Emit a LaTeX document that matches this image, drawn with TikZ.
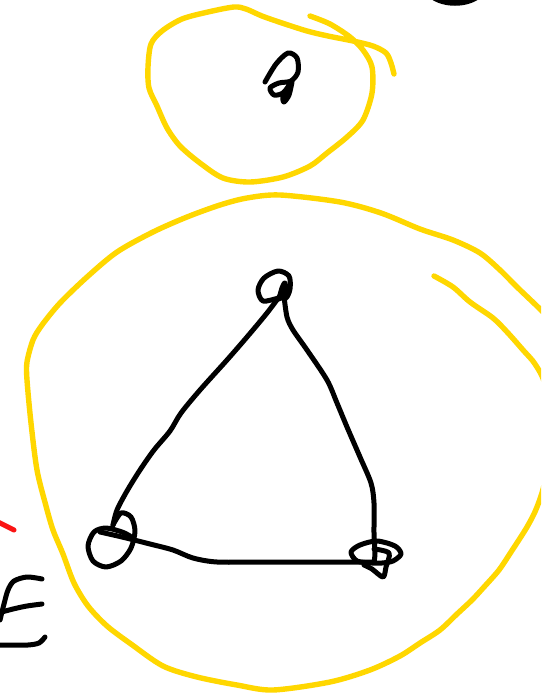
\documentclass[tikz,border=0pt]{standalone}
\definecolor{penyellow}{RGB}{255,215,0}
\definecolor{penred}{RGB}{250,20,20}
\tikzset{
  yel/.style={draw=penyellow,line width=5.4pt,line cap=round,line join=round},
  blk/.style={draw=black,line width=5pt,line cap=round,line join=round},
  rd/.style={draw=penred,line width=5pt,line cap=round}
}
\begin{document}
\begin{tikzpicture}[x=1pt,y=-1pt]
\useasboundingbox (0,0) rectangle (541,699);
\clip (0,0) rectangle (541,699);
\fill[white] (0,0) rectangle (541,699);

% top yellow circle
\draw[yel] plot[smooth] coordinates {(310,16) (330,24) (350,37) (363,50) (372,67) (372,93) (363,120) (347,137) (327,153) (310,166) (283,177) (250,182) (223,178) (200,163) (180,146) (167,128) (157,106) (149,88) (148,67) (151,44) (162,31) (182,19) (208,12) (234,7) (246,9) (262,16) (282,23) (307,31) (328,36) (353,41) (373,46) (386,53) (391,63) (394,74)};

% big yellow circle
\draw[yel] plot[smooth] coordinates {(434,276) (453,287) (470,302) (493,318) (508,333) (523,350) (535,364) (545,385) (549,430) (545,480) (537,507) (527,527) (511,552) (499,570) (484,587) (472,600) (457,614) (440,630) (420,643) (400,656) (370,670) (330,682) (273,690) (237,685) (197,677) (163,666) (131,644) (107,626) (88,606) (74,583) (63,554) (53,530) (46,506) (37,470) (31,423) (27,380) (27,362) (33,340) (42,325) (60,303) (87,277) (117,252) (153,232) (187,217) (220,205) (247,198) (280,195) (340,202) (381,213) (420,229) (453,240) (480,253) (500,270) (517,287) (541,310) (556,326)};

% small black glyph in top circle
\draw[blk] plot[smooth] coordinates {(265,82) (276,64) (288,53) (297,58) (298,72) (291,81) (279,83) (270,88) (274,95) (283,93) (290,84)};
\draw[blk] plot[smooth] coordinates {(292,82) (289,95) (284,102) (283,96) (289,86)};

% triangle vertices
\coordinate (A) at (282,293);
\coordinate (B) at (113,525);
\coordinate (C) at (374,562);

% top vertex loop
\draw[blk] plot[smooth cycle] coordinates {(279,298) (263,301) (258,290) (264,278) (278,271) (289,276) (290,289) (286,298)};
\draw[blk] plot[smooth] coordinates {(279,299) (282,288) (285,283) (286,293)};

% left edge A-B
\draw[blk] plot[smooth] coordinates {(A) (267,313) (247,337) (227,360) (200,390) (181,413) (170,431) (154,450) (140,470) (127,491) (117,510) (B)};
% right edge A-C
\draw[blk] plot[smooth] coordinates {(284,296) (287,317) (293,330) (307,350) (327,380) (337,403) (347,427) (360,457) (371,483) (374,503) (374,533) (375,553) (C)};
% bottom edge B-C
\draw[blk] plot[smooth] coordinates {(100,532) (122,537) (150,544) (173,550) (193,558) (217,562) (260,562) (C)};

% left vertex loops
\draw[blk] plot[smooth] coordinates {(B) (121,513) (131,517) (135,531) (131,548) (121,561) (106,567) (93,561) (88,546) (94,532) (106,528) (122,532) (130,536)};

% right vertex loops
\draw[blk] plot[smooth cycle] coordinates {(372,563) (357,561) (351,552) (360,545) (377,541) (395,546) (401,554) (393,561) (382,563)};
\draw[blk] plot[smooth] coordinates {(374,549) (389,553) (386,567) (383,577) (372,569) (364,565)};

% black arc at top right
\fill[black] (431,-1) .. controls (444,8) and (466,8) .. (479,-1) -- cycle;

% red stroke at left
\draw[rd] (-2,522) -- (14,530);

% E-like strokes at left
\draw[blk] plot[smooth] coordinates {(42,579) (27,577) (14,581) (8,590) (4,604) (0,620)};
\draw[blk] plot[smooth] coordinates {(42,604) (27,606) (13,609) (-2,613)};
\draw[blk] plot[smooth] coordinates {(45,637) (39,643) (28,645) (12,645) (-3,645)};
\end{tikzpicture}
\end{document}
